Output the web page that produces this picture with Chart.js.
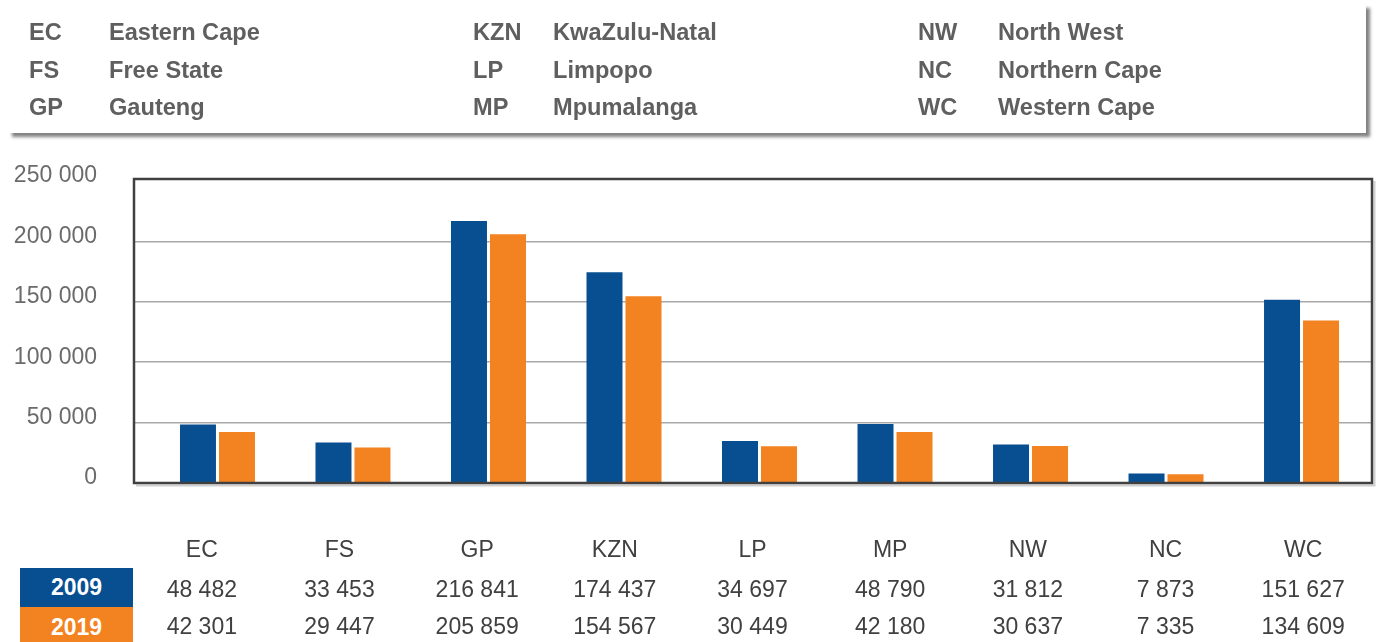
<!DOCTYPE html>
<html>
<head>
<meta charset="utf-8">
<script src="https://cdn.jsdelivr.net/npm/chart.js@4.4.1/dist/chart.umd.min.js"></script>
<style>
  html, body { margin:0; padding:0; background:#fff; }
  body { width:1376px; height:642px; position:relative; overflow:hidden; font-family:"Liberation Sans", Arial, sans-serif; }
  #c { position:absolute; left:0; top:0; }
  #legendBox { position:absolute; left:8px; top:4px; width:1358px; height:129px; background:#fff;
    box-shadow: 4px 4px 3px rgba(90,90,90,0.75); }
  .lg { position:absolute; font-weight:bold; font-size:23.6px; color:#5f5f5f; line-height:24px; white-space:nowrap; transform:translateY(-50%); }
  .tc { position:absolute; font-size:23px; color:#404040; line-height:24px; white-space:nowrap; transform:translate(-50%,-50%); }
  .yr { position:absolute; left:20px; width:113px; color:#fff; font-weight:bold; font-size:23px; text-align:center; }
</style>
</head>
<body>
<canvas id="c" width="1376" height="642"></canvas>
<div id="legendBox"></div>
<div id="overlay"></div>
<script>
const categories = ["EC", "FS", "GP", "KZN", "LP", "MP", "NW", "NC", "WC"];
const values2009 = [48482, 33453, 216841, 174437, 34697, 48790, 31812, 7873, 151627];
const values2019 = [42301, 29447, 205859, 154567, 30449, 42180, 30637, 7335, 134609];
const seriesLabels = ["2009", "2019"];
const yTicks = [0, 50000, 100000, 150000, 200000, 250000];
const legendAbbr = [["EC", "FS", "GP"], ["KZN", "LP", "MP"], ["NW", "NC", "WC"]];
const legendNames = [["Eastern Cape", "Free State", "Gauteng"], ["KwaZulu-Natal", "Limpopo", "Mpumalanga"], ["North West", "Northern Cape", "Western Cape"]];

const BLUE = "#084f92", ORANGE = "#f38221";
const fmt = v => String(v).replace(/\B(?=(\d{3})+(?!\d))/g, " ");

// Legend box text
const overlay = document.getElementById("overlay");
const colX = [[29, 109], [473, 553], [918, 998]];
const rowY = [32, 69.5, 106.5];
legendAbbr.forEach((col, ci) => {
  col.forEach((ab, ri) => {
    const a = document.createElement("div");
    a.className = "lg"; a.textContent = ab;
    a.style.left = colX[ci][0] + "px"; a.style.top = rowY[ri] + "px";
    overlay.appendChild(a);
    const n = document.createElement("div");
    n.className = "lg"; n.textContent = legendNames[ci][ri];
    n.style.left = colX[ci][1] + "px"; n.style.top = rowY[ri] + "px";
    overlay.appendChild(n);
  });
});

// Data table below the chart
const tblLeft = 133, tblRight = 1372;
const colW = (tblRight - tblLeft) / categories.length;
const tblRows = [549, 588.5, 625.5];
function addCell(text, x, y) {
  const d = document.createElement("div");
  d.className = "tc"; d.textContent = text;
  d.style.left = x + "px"; d.style.top = y + "px";
  overlay.appendChild(d);
}
categories.forEach((c, i) => {
  const cx = tblLeft + (i + 0.5) * colW;
  addCell(c, cx, tblRows[0]);
  addCell(fmt(values2009[i]), cx, tblRows[1]);
  addCell(fmt(values2019[i]), cx, tblRows[2]);
});
[[BLUE, 568, 39], [ORANGE, 607, 40]].forEach((r, i) => {
  const d = document.createElement("div");
  d.className = "yr"; d.textContent = seriesLabels[i];
  d.style.background = r[0]; d.style.top = r[1] + "px"; d.style.height = r[2] + "px";
  d.style.lineHeight = r[2] + "px";
  overlay.appendChild(d);
});

// Frame plugin
const framePlugin = {
  id: "frame",
  afterDraw(chart) {
    const { ctx, chartArea: a } = chart;
    const top = a.top - 2;
    ctx.save();
    ctx.strokeStyle = "#cfcfcf";
    ctx.lineWidth = 2;
    ctx.beginPath();
    ctx.moveTo(a.right + 2.5, top + 2);
    ctx.lineTo(a.right + 2.5, a.bottom + 2.5);
    ctx.lineTo(a.left + 2, a.bottom + 2.5);
    ctx.stroke();
    ctx.strokeStyle = "#404040";
    ctx.lineWidth = 2.5;
    ctx.strokeRect(a.left, top, a.right - a.left, a.bottom - top);
    ctx.restore();
  }
};

const toPts = arr => arr.map((v, i) => ({ x: i, y: v }));
const xTickVals = categories.map((c, i) => i);

new Chart(document.getElementById("c"), {
  type: "bar",
  data: {
    datasets: [
      { label: seriesLabels[0], data: toPts(values2009), backgroundColor: BLUE },
      { label: seriesLabels[1], data: toPts(values2019), backgroundColor: ORANGE }
    ]
  },
  options: {
    responsive: false,
    animation: false,
    devicePixelRatio: 1,
    categoryPercentage: 0.5756,
    barPercentage: 0.923,
    layout: { padding: { top: 181, bottom: 159, left: 0, right: 4 } },
    plugins: { legend: { display: false }, tooltip: { enabled: false } },
    scales: {
      x: {
        type: "linear", min: -0.616, max: 8.52, offset: false, display: false,
        afterBuildTicks: s => { s.ticks = xTickVals.map(v => ({ value: v })); },
        grid: { display: false }
      },
      y: {
        min: 0, max: 250000,
        afterFit: s => { s.width = 134; },
        afterBuildTicks: s => { s.ticks = yTicks.map(v => ({ value: v })); },
        border: { display: false },
        grid: {
          drawTicks: false, lineWidth: 1.5,
          color: c => (c.tick && (c.tick.value === 250000 || c.tick.value === 0)) ? "rgba(0,0,0,0)" : "#a9a9a9"
        },
        ticks: {
          padding: 37, labelOffset: -5, color: "#6b6b6b",
          font: { family: "'Liberation Sans', Arial, sans-serif", size: 23 },
          callback: v => fmt(v)
        }
      }
    }
  },
  plugins: [framePlugin]
});
</script>
</body>
</html>
